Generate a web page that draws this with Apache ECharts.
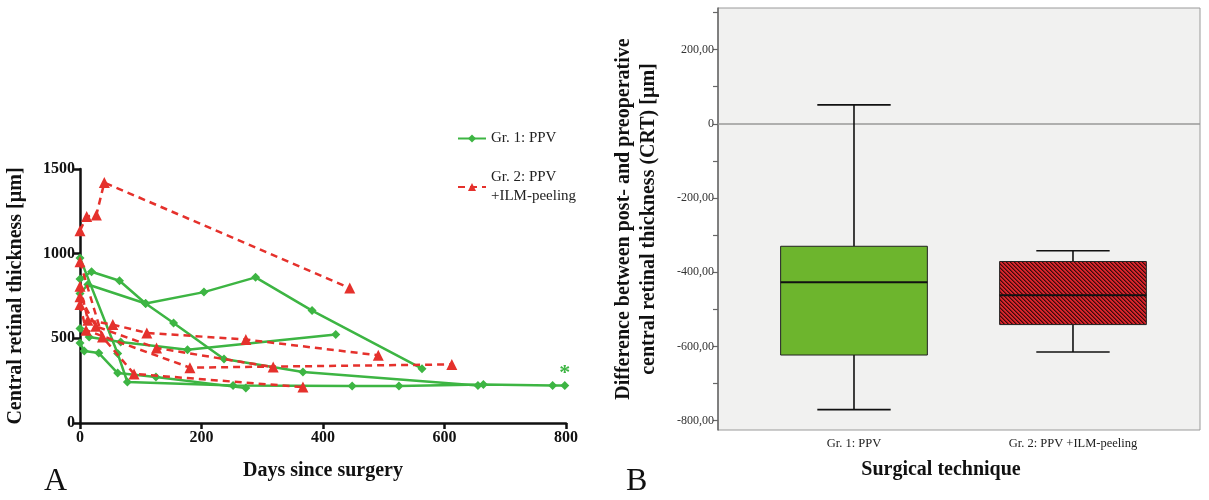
<!DOCTYPE html>
<html>
<head>
<meta charset="utf-8">
<script src="https://cdn.jsdelivr.net/npm/echarts@6/dist/echarts.min.js"></script>
<style>
html,body{margin:0;padding:0;background:#fff;}
#c{width:1209px;height:500px;}
</style>
</head>
<body>
<div id="c"></div>
<script>
// ---------- Panel A data: [days since surgery, CRT µm] ----------
const gr1Name = 'Gr. 1: PPV';
const gr2Name = 'Gr. 2: PPV\n+ILM-peeling';
const gr1_p1 = [[0,975],[62,410],[78,242],[252,222],[448,218],[525,218],[664,228],[778,222],[798,222]];
const gr1_p2 = [[0,850],[19,893],[65,840],[108,706],[154,591],[237,378],[367,301],[655,222]];
const gr1_p3 = [[0,765],[13,818],[108,706],[204,773],[289,860],[382,664],[563,321]];
const gr1_p4 = [[0,558],[15,508],[67,478],[177,433],[421,522]];
const gr1_p5 = [[0,472],[7,425],[31,413],[62,295],[125,271],[273,206]];
const gr2_p1 = [[0,1136],[11,1219],[27,1229],[40,1420],[444,797]];
const gr2_p2 = [[0,952],[37,508],[89,290],[367,212]];
const gr2_p3 = [[0,808],[13,607],[54,581],[110,532],[273,493],[491,400]];
const gr2_p4 = [[0,745],[26,571],[126,443],[318,330]];
const gr2_p5 = [[0,700],[10,548],[181,327],[612,346]];

// ---------- Panel B data: boxplot of CRT difference ----------
const categoriesB = ['Gr. 1: PPV', 'Gr. 2: PPV +ILM-peeling'];
const boxMin    = [-770, -615];
const boxQ1     = [-623, -541];
const boxMedian = [-427, -462];
const boxQ3     = [-330, -371];
const boxMax    = [51, -342];
const yLabelsB = [200,0,-200,-400,-600,-800];
const yTicksB  = [300,200,100,0,-100,-200,-300,-400,-500,-600,-700,-800];

const SERIF = 'Liberation Serif';
const GREEN = '#3db543';
const RED = '#e5312c';

// hatch pattern for group 2 box
function makeHatch(){
  const n = 4;
  const cv = document.createElement('canvas');
  cv.width = n; cv.height = n;
  const ctx = cv.getContext('2d');
  const img = ctx.createImageData(n, n);
  for (let y = 0; y < n; y++) for (let x = 0; x < n; x++) {
    const k = ((x - y) % n + n) % n;
    let c;
    if (k === 0) c = [60, 10, 12];
    else if (k === 1) c = [140, 22, 26];
    else c = [215, 38, 44];
    const i = (y * n + x) * 4;
    img.data[i] = c[0]; img.data[i+1] = c[1]; img.data[i+2] = c[2]; img.data[i+3] = 255;
  }
  ctx.putImageData(img, 0, 0);
  return cv;
}
const hatch = makeHatch();

const chart = echarts.init(document.getElementById('c'), null, {renderer: 'canvas'});

function lineSeries(data, isGr2, star){
  return {
    type: 'line',
    name: isGr2 ? gr2Name : gr1Name,
    xAxisIndex: 0, yAxisIndex: 0,
    data: star ? data.map((d, i) => i === data.length - 1 ? {value: d, label: {show: true, formatter: '*', position: 'top', distance: -3, color: GREEN, fontSize: 22, fontFamily: SERIF, fontWeight: 'bold'}} : d) : data,
    symbol: isGr2 ? 'triangle' : 'diamond',
    symbolSize: isGr2 ? 11 : 9,
    showSymbol: true,
    lineStyle: {color: isGr2 ? RED : GREEN, width: 2.5, type: isGr2 ? [7, 5] : 'solid'},
    itemStyle: {color: isGr2 ? RED : GREEN, borderWidth: 0},
    z: isGr2 ? 3 : 2,
    animation: false
  };
}

const seriesA = [
  lineSeries(gr1_p1, false, true),
  lineSeries(gr1_p2, false),
  lineSeries(gr1_p3, false),
  lineSeries(gr1_p4, false),
  lineSeries(gr1_p5, false),
  lineSeries(gr2_p1, true),
  lineSeries(gr2_p2, true),
  lineSeries(gr2_p3, true),
  lineSeries(gr2_p4, true),
  lineSeries(gr2_p5, true)
];

const boxData = categoriesB.map((c, i) => [i + 1, boxMin[i], boxQ1[i], boxMedian[i], boxQ3[i], boxMax[i]]);

const boxSeries = {
  type: 'custom',
  xAxisIndex: 1, yAxisIndex: 1,
  data: boxData,
  animation: false,
  renderItem: function(params, api){
    const x = api.value(0);
    const pMin = api.coord([x, api.value(1)]);
    const pQ1 = api.coord([x, api.value(2)]);
    const pMed = api.coord([x, api.value(3)]);
    const pQ3 = api.coord([x, api.value(4)]);
    const pMax = api.coord([x, api.value(5)]);
    const halfW = api.size([0.67, 0])[0] / 2;
    const capW = halfW / 2;
    const cx = pMed[0];
    const stroke = {stroke: '#111', lineWidth: 1.6};
    const fill = params.dataIndex === 0 ? '#6db52d' : {image: hatch, repeat: 'repeat'};
    return {
      type: 'group',
      children: [
        {type: 'line', shape: {x1: cx, y1: pMax[1], x2: cx, y2: pQ3[1]}, style: stroke},
        {type: 'line', shape: {x1: cx, y1: pQ1[1], x2: cx, y2: pMin[1]}, style: stroke},
        {type: 'line', shape: {x1: cx - capW, y1: pMax[1], x2: cx + capW, y2: pMax[1]}, style: stroke},
        {type: 'line', shape: {x1: cx - capW, y1: pMin[1], x2: cx + capW, y2: pMin[1]}, style: stroke},
        {type: 'rect', shape: {x: cx - halfW, y: pQ3[1], width: halfW * 2, height: pQ1[1] - pQ3[1]}, style: {fill: fill, stroke: '#222', lineWidth: 1}},
        {type: 'line', shape: {x1: cx - halfW, y1: pMed[1], x2: cx + halfW, y2: pMed[1]}, style: {stroke: '#111', lineWidth: 2}}
      ]
    };
  },
  markLine: {
    silent: true,
    symbol: 'none',
    label: {show: false},
    lineStyle: {color: '#999', width: 1.5, type: 'solid'},
    data: [{yAxis: 0}]
  },
  z: 5
};

const option = {
  animation: false,
  backgroundColor: '#fff',
  legend: {
    data: [gr1Name, gr2Name],
    left: 452, top: 124,
    orient: 'vertical',
    itemWidth: 28, itemHeight: 10,
    itemGap: 20,
    textStyle: {fontFamily: SERIF, fontSize: 15, color: '#222', lineHeight: 19},
    selectedMode: false
  },
  grid: [
    {left: 80, top: 169, width: 486, height: 254, containLabel: false},
    {left: 718, top: 8, width: 482, height: 422, show: true, backgroundColor: '#f1f1f0', borderColor: '#9a9a9a', borderWidth: 1}
  ],
  xAxis: [
    {
      type: 'value', gridIndex: 0, min: 0, max: 800, interval: 200,
      name: 'Days since surgery', nameLocation: 'middle', nameGap: 38,
      nameTextStyle: {fontFamily: SERIF, fontWeight: 'bold', fontSize: 20, color: '#111'},
      axisLine: {show: true, lineStyle: {color: '#111', width: 2.5}},
      axisTick: {show: true, length: 6, lineStyle: {color: '#111', width: 2.5}},
      axisLabel: {fontFamily: SERIF, fontWeight: 'bold', fontSize: 16, color: '#111', margin: 7},
      splitLine: {show: false}
    },
    {
      type: 'value', gridIndex: 1, min: 0.379, max: 2.58,
      name: 'Surgical technique', nameLocation: 'middle', nameGap: 30,
      nameTextStyle: {fontFamily: SERIF, fontWeight: 'bold', fontSize: 20, color: '#111', padding: [0, 36, 0, 0]},
      axisLine: {show: false},
      axisTick: {show: false},
      axisLabel: {
        customValues: [1, 2],
        formatter: function(v){ return categoriesB[Math.round(v) - 1]; },
        fontFamily: SERIF, fontSize: 12.5, color: '#222', margin: 7
      },
      splitLine: {show: false}
    }
  ],
  yAxis: [
    {
      type: 'value', gridIndex: 0, min: 0, max: 1500, interval: 500,
      name: 'Central retinal thickness [µm]', nameLocation: 'middle', nameGap: 54,
      nameTextStyle: {fontFamily: SERIF, fontWeight: 'bold', fontSize: 20, color: '#111'},
      axisLine: {show: true, lineStyle: {color: '#111', width: 2.5}},
      axisTick: {show: true, length: 6, lineStyle: {color: '#111', width: 2.5}},
      axisLabel: {fontFamily: SERIF, fontWeight: 'bold', fontSize: 16, color: '#111', margin: 5, formatter: function(v){ return String(v); }},
      splitLine: {show: false}
    },
    {
      type: 'value', gridIndex: 1, min: -825, max: 312,
      name: 'Difference between post- and preoperative\ncentral retinal thickness (CRT) [µm]',
      nameLocation: 'middle', nameGap: 57,
      nameTextStyle: {fontFamily: SERIF, fontWeight: 'bold', fontSize: 20, color: '#111', lineHeight: 25},
      axisLine: {show: true, lineStyle: {color: '#666', width: 1.5}},
      axisTick: {show: true, length: 5, customValues: yTicksB, lineStyle: {color: '#666', width: 1.2}},
      axisLabel: {
        customValues: yLabelsB,
        formatter: function(v){ return v === 0 ? '0' : v.toFixed(2).replace('.', ','); },
        fontFamily: SERIF, fontSize: 12, color: '#333', margin: 4
      },
      splitLine: {show: false}
    }
  ],
  graphic: [
    {type: 'text', left: 44, top: 466, style: {text: 'A', font: '32px "Liberation Serif"', fill: '#111'}},
    {type: 'text', left: 626, top: 466, style: {text: 'B', font: '32px "Liberation Serif"', fill: '#111'}}
  ],
  series: seriesA.concat([boxSeries])
};
chart.setOption(option);
</script>
</body>
</html>
